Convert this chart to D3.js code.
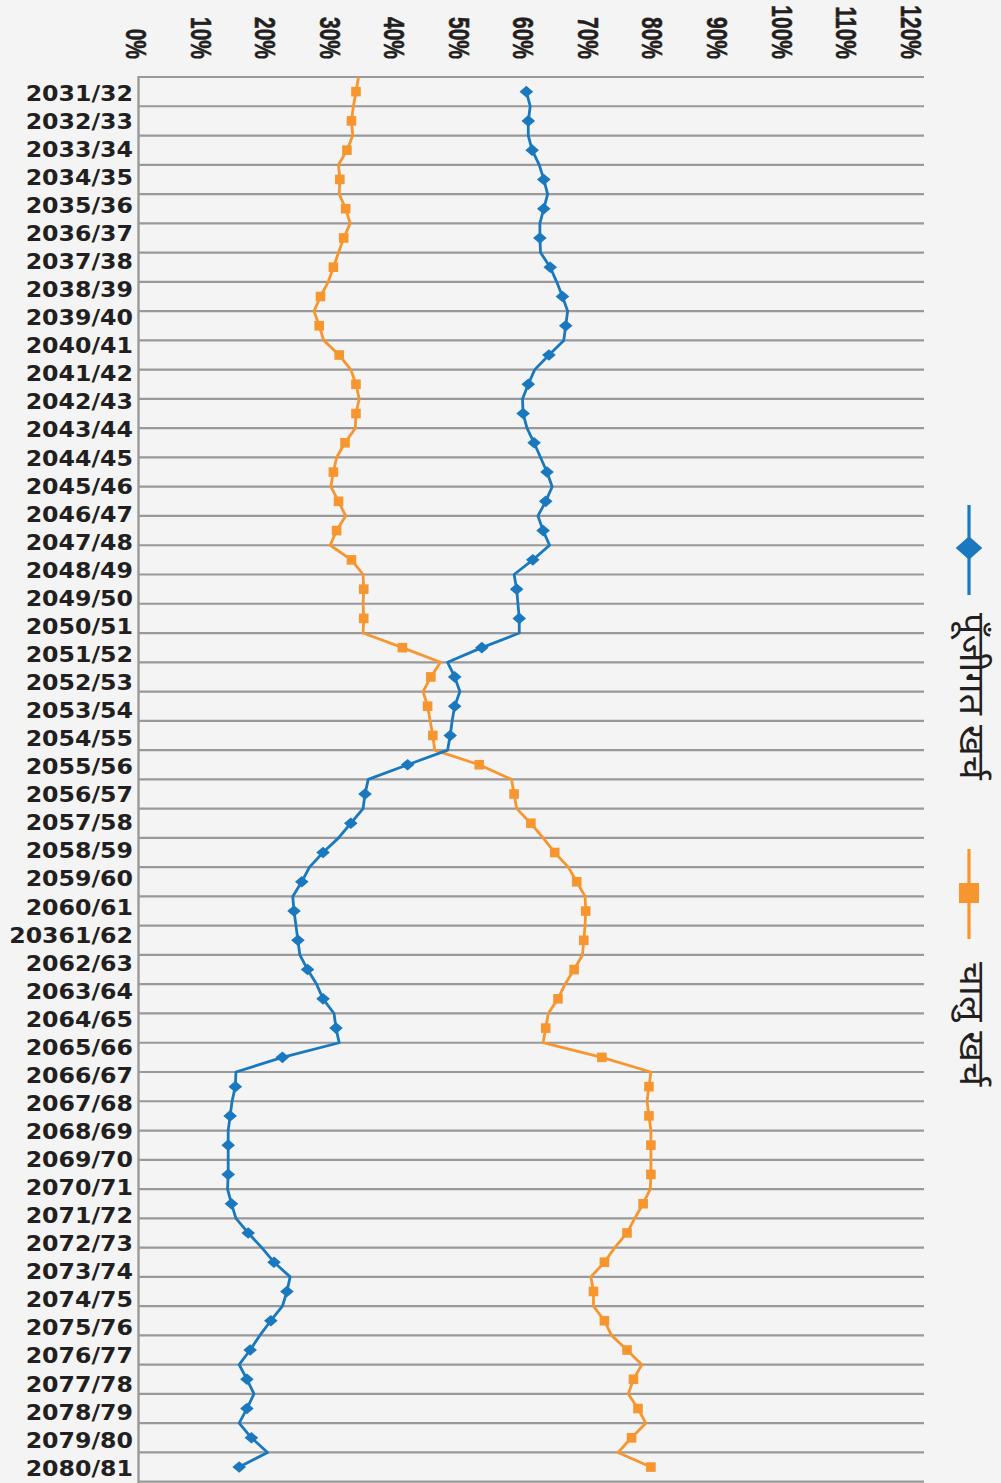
<!DOCTYPE html>
<html>
<head>
<meta charset="utf-8">
<script src="https://cdn.jsdelivr.net/npm/d3@7"></script>
<style>
  html, body { margin: 0; padding: 0; background: #f4f4f4; }
  svg { display: block; }
</style>
</head>
<body>
<svg id="chart" width="1001" height="1483"></svg>
<script>
// year labels down the left side (50 of them, typo kept as in source)
const years = [
  "2031/32","2032/33","2033/34","2034/35","2035/36","2036/37","2037/38","2038/39","2039/40","2040/41",
  "2041/42","2042/43","2043/44","2044/45","2045/46","2046/47","2047/48","2048/49","2049/50","2050/51",
  "2051/52","2052/53","2053/54","2054/55","2055/56","2056/57","2057/58","2058/59","2059/60","2060/61",
  "20361/62","2062/63","2063/64","2064/65","2065/66","2066/67","2067/68","2068/69","2069/70","2070/71",
  "2071/72","2072/73","2073/74","2074/75","2075/76","2076/77","2077/78","2078/79","2079/80","2080/81"
];

const pctTicks = [0, 10, 20, 30, 40, 50, 60, 70, 80, 90, 100, 110, 120];

const seriesNames = ["पूँजीगत खर्च", "चालु खर्च"];

// capital expenditure (%), marker values, one per grid row
const capitalMarkers = [
  60.1, 60.4, 61.0, 62.8, 62.8, 62.2, 63.8, 65.7, 66.2, 63.6,
  60.4, 59.6, 61.3, 63.3, 63.1, 62.7, 61.1, 58.6, 59.0, 53.2,
  49.0, 49.0, 48.3, 41.7, 35.1, 32.9, 28.6, 25.3, 24.1, 24.7,
  26.2, 28.6, 30.6, 22.3, 15.0, 14.2, 13.9, 13.9, 14.4, 17.0,
  21.0, 23.0, 20.5, 17.3, 16.8, 16.8, 17.5, 15.6
];
// line bends on the grid lines
const capitalKnots = [
  null, 60.7, 60.4, 62.1, 63.4, 62.2, 62.3, 64.8, 66.5, 65.9,
  61.4, 59.5, 60.2, 62.3, 64.1, 61.9, 63.7, 58.2, 58.8, 59.0,
  47.9, 49.8, 48.6, 47.9, 35.6, 34.8, 31.0, 26.5, 23.9, 24.4,
  25.0, 27.6, 30.3, 31.1, 15.1, 14.5, 13.9, 13.9, 13.8, 15.1,
  19.1, 23.5, 22.3, 18.8, 15.6, 17.9, 15.6, 20.0, null
];

// current expenditure (%)
const currentMarkers = [
  33.7, 33.0, 32.3, 31.2, 32.1, 31.8, 30.2, 28.2, 28.0, 31.1,
  33.7, 33.7, 32.0, 30.2, 31.0, 30.7, 33.0, 34.9, 34.9, 40.9,
  45.3, 44.8, 45.6, 52.8, 58.2, 60.8, 64.5, 67.9, 69.3, 69.0,
  67.5, 65.0, 63.1, 71.8, 79.1, 79.1, 79.4, 79.4, 78.2, 75.7,
  72.2, 70.5, 72.2, 75.7, 76.7, 77.4, 76.4, 79.4
];
const currentKnots = [
  34.1, 33.3, 33.2, 31.0, 31.1, 32.8, 31.0, 29.4, 27.2, 28.7,
  32.9, 34.2, 33.6, 30.7, 29.8, 32.1, 29.7, 34.8, 34.8, 34.8,
  46.8, 44.1, 45.2, 45.9, 57.8, 58.6, 62.7, 66.6, 69.2, 69.2,
  68.8, 66.1, 63.5, 62.7, 79.4, 78.8, 79.4, 79.4, 79.3, 76.9,
  73.8, 70.1, 70.5, 73.3, 78.0, 75.9, 78.6, 74.3, null
];

const blue = "#1a78be";
const orange = "#f7962f";
const ink = "#231f20";
const gridColor = "#999999";

const svg = d3.select("#chart");

const x = d3.scaleLinear().domain([0, 120]).range([138.5, 912.9]);
const gridRows = capitalMarkers.length;
const yGrid = d3.scaleLinear().domain([0, gridRows]).range([77, 1481.7]);
const yLabel = d3.scaleBand().domain(years).range([79, 1482]);

// horizontal grid lines
svg.append("g")
  .selectAll("line")
  .data(d3.range(gridRows + 1))
  .join("line")
    .attr("x1", x(0))
    .attr("x2", 924)
    .attr("y1", d => yGrid(d))
    .attr("y2", d => yGrid(d))
    .attr("stroke", gridColor)
    .attr("stroke-width", 2.2);

// left axis line
svg.append("line")
  .attr("x1", x(0)).attr("x2", x(0))
  .attr("y1", yGrid(0) - 1).attr("y2", 1483)
  .attr("stroke", gridColor)
  .attr("stroke-width", 2.4);

// top axis, labels turned on their side
const topAxis = svg.append("g")
  .call(d3.axisTop(x).tickValues(pctTicks).tickFormat(d => d + "%").tickSize(0));
topAxis.select(".domain").remove();
topAxis.selectAll("text")
  .attr("x", null).attr("y", null).attr("dy", null)
  .attr("transform", "translate(-2.5,59) rotate(90) scale(1,1.37)")
  .attr("text-anchor", "end")
  .attr("dominant-baseline", "central")
  .attr("fill", ink)
  .style("font-family", "'Liberation Sans', Arial, sans-serif")
  .style("font-weight", "bold")
  .style("font-size", "21px")
  .style("stroke", ink)
  .style("stroke-width", 0.4);

// left axis with the year labels
const leftAxis = svg.append("g")
  .call(d3.axisLeft(yLabel).tickSize(0));
leftAxis.select(".domain").remove();
leftAxis.selectAll("text")
  .attr("x", null).attr("dy", "0.36em")
  .attr("transform", "translate(133,0) scale(1.1,1)")
  .attr("text-anchor", "end")
  .attr("fill", ink)
  .style("font-family", "'DejaVu Sans', sans-serif")
  .style("font-weight", "bold")
  .style("font-size", "21.5px");

// line goes knot -> marker -> knot ...
function pathPoints(markers, knots) {
  const pts = [];
  knots.forEach((k, i) => {
    if (k != null) pts.push([k, i]);
    if (i < markers.length) pts.push([markers[i], i + 0.5]);
  });
  return pts;
}

const line = d3.line()
  .x(d => x(d[0]))
  .y(d => yGrid(d[1]));

const diamond = "M0,-5.8L6.8,0L0,5.8L-6.8,0Z";

// current expenditure
svg.append("path")
  .datum(pathPoints(currentMarkers, currentKnots))
  .attr("d", line)
  .attr("fill", "none")
  .attr("stroke", orange)
  .attr("stroke-width", 2.8)
  .attr("stroke-linejoin", "round");

svg.append("g")
  .selectAll("rect")
  .data(currentMarkers)
  .join("rect")
    .attr("x", d => x(d) - 4.8)
    .attr("y", (d, i) => yGrid(i + 0.5) - 4.8)
    .attr("width", 9.6)
    .attr("height", 9.6)
    .attr("fill", orange);

// capital expenditure
svg.append("path")
  .datum(pathPoints(capitalMarkers, capitalKnots))
  .attr("d", line)
  .attr("fill", "none")
  .attr("stroke", blue)
  .attr("stroke-width", 2.8)
  .attr("stroke-linejoin", "round");

svg.append("g")
  .selectAll("path")
  .data(capitalMarkers)
  .join("path")
    .attr("d", diamond)
    .attr("transform", (d, i) => `translate(${x(d)},${yGrid(i + 0.5)})`)
    .attr("fill", blue);

// legend, standing on its side at the right
const legend = [
  { name: seriesNames[0], color: blue, top: 505, mid: 548, bottom: 595, textY: 613, shape: "diamond" },
  { name: seriesNames[1], color: orange, top: 849, mid: 893, bottom: 939, textY: 962, shape: "square" }
];
const legendX = 969;

const lg = svg.append("g")
  .selectAll("g")
  .data(legend)
  .join("g");

lg.append("line")
  .attr("x1", legendX).attr("x2", legendX)
  .attr("y1", d => d.top).attr("y2", d => d.bottom)
  .attr("stroke", d => d.color)
  .attr("stroke-width", 3.2);

lg.filter(d => d.shape === "diamond").append("path")
  .attr("d", "M0,-11.7L13.3,0L0,11.7L-13.3,0Z")
  .attr("transform", d => `translate(${legendX},${d.mid})`)
  .attr("fill", d => d.color);

lg.filter(d => d.shape === "square").append("rect")
  .attr("x", legendX - 10).attr("y", d => d.mid - 10)
  .attr("width", 20).attr("height", 20)
  .attr("fill", d => d.color);

lg.append("text")
  .attr("transform", d => `translate(${legendX},${d.textY}) rotate(90) scale(1.4,1.3)`)
  .attr("text-anchor", "start")
  .attr("dominant-baseline", "central")
  .attr("fill", ink)
  .style("font-family", "'Noto Sans Devanagari', 'Lohit Devanagari', 'FreeSans', 'Noto Sans', sans-serif")
  .style("font-size", "27px")
  .text(d => d.name);
</script>
</body>
</html>
